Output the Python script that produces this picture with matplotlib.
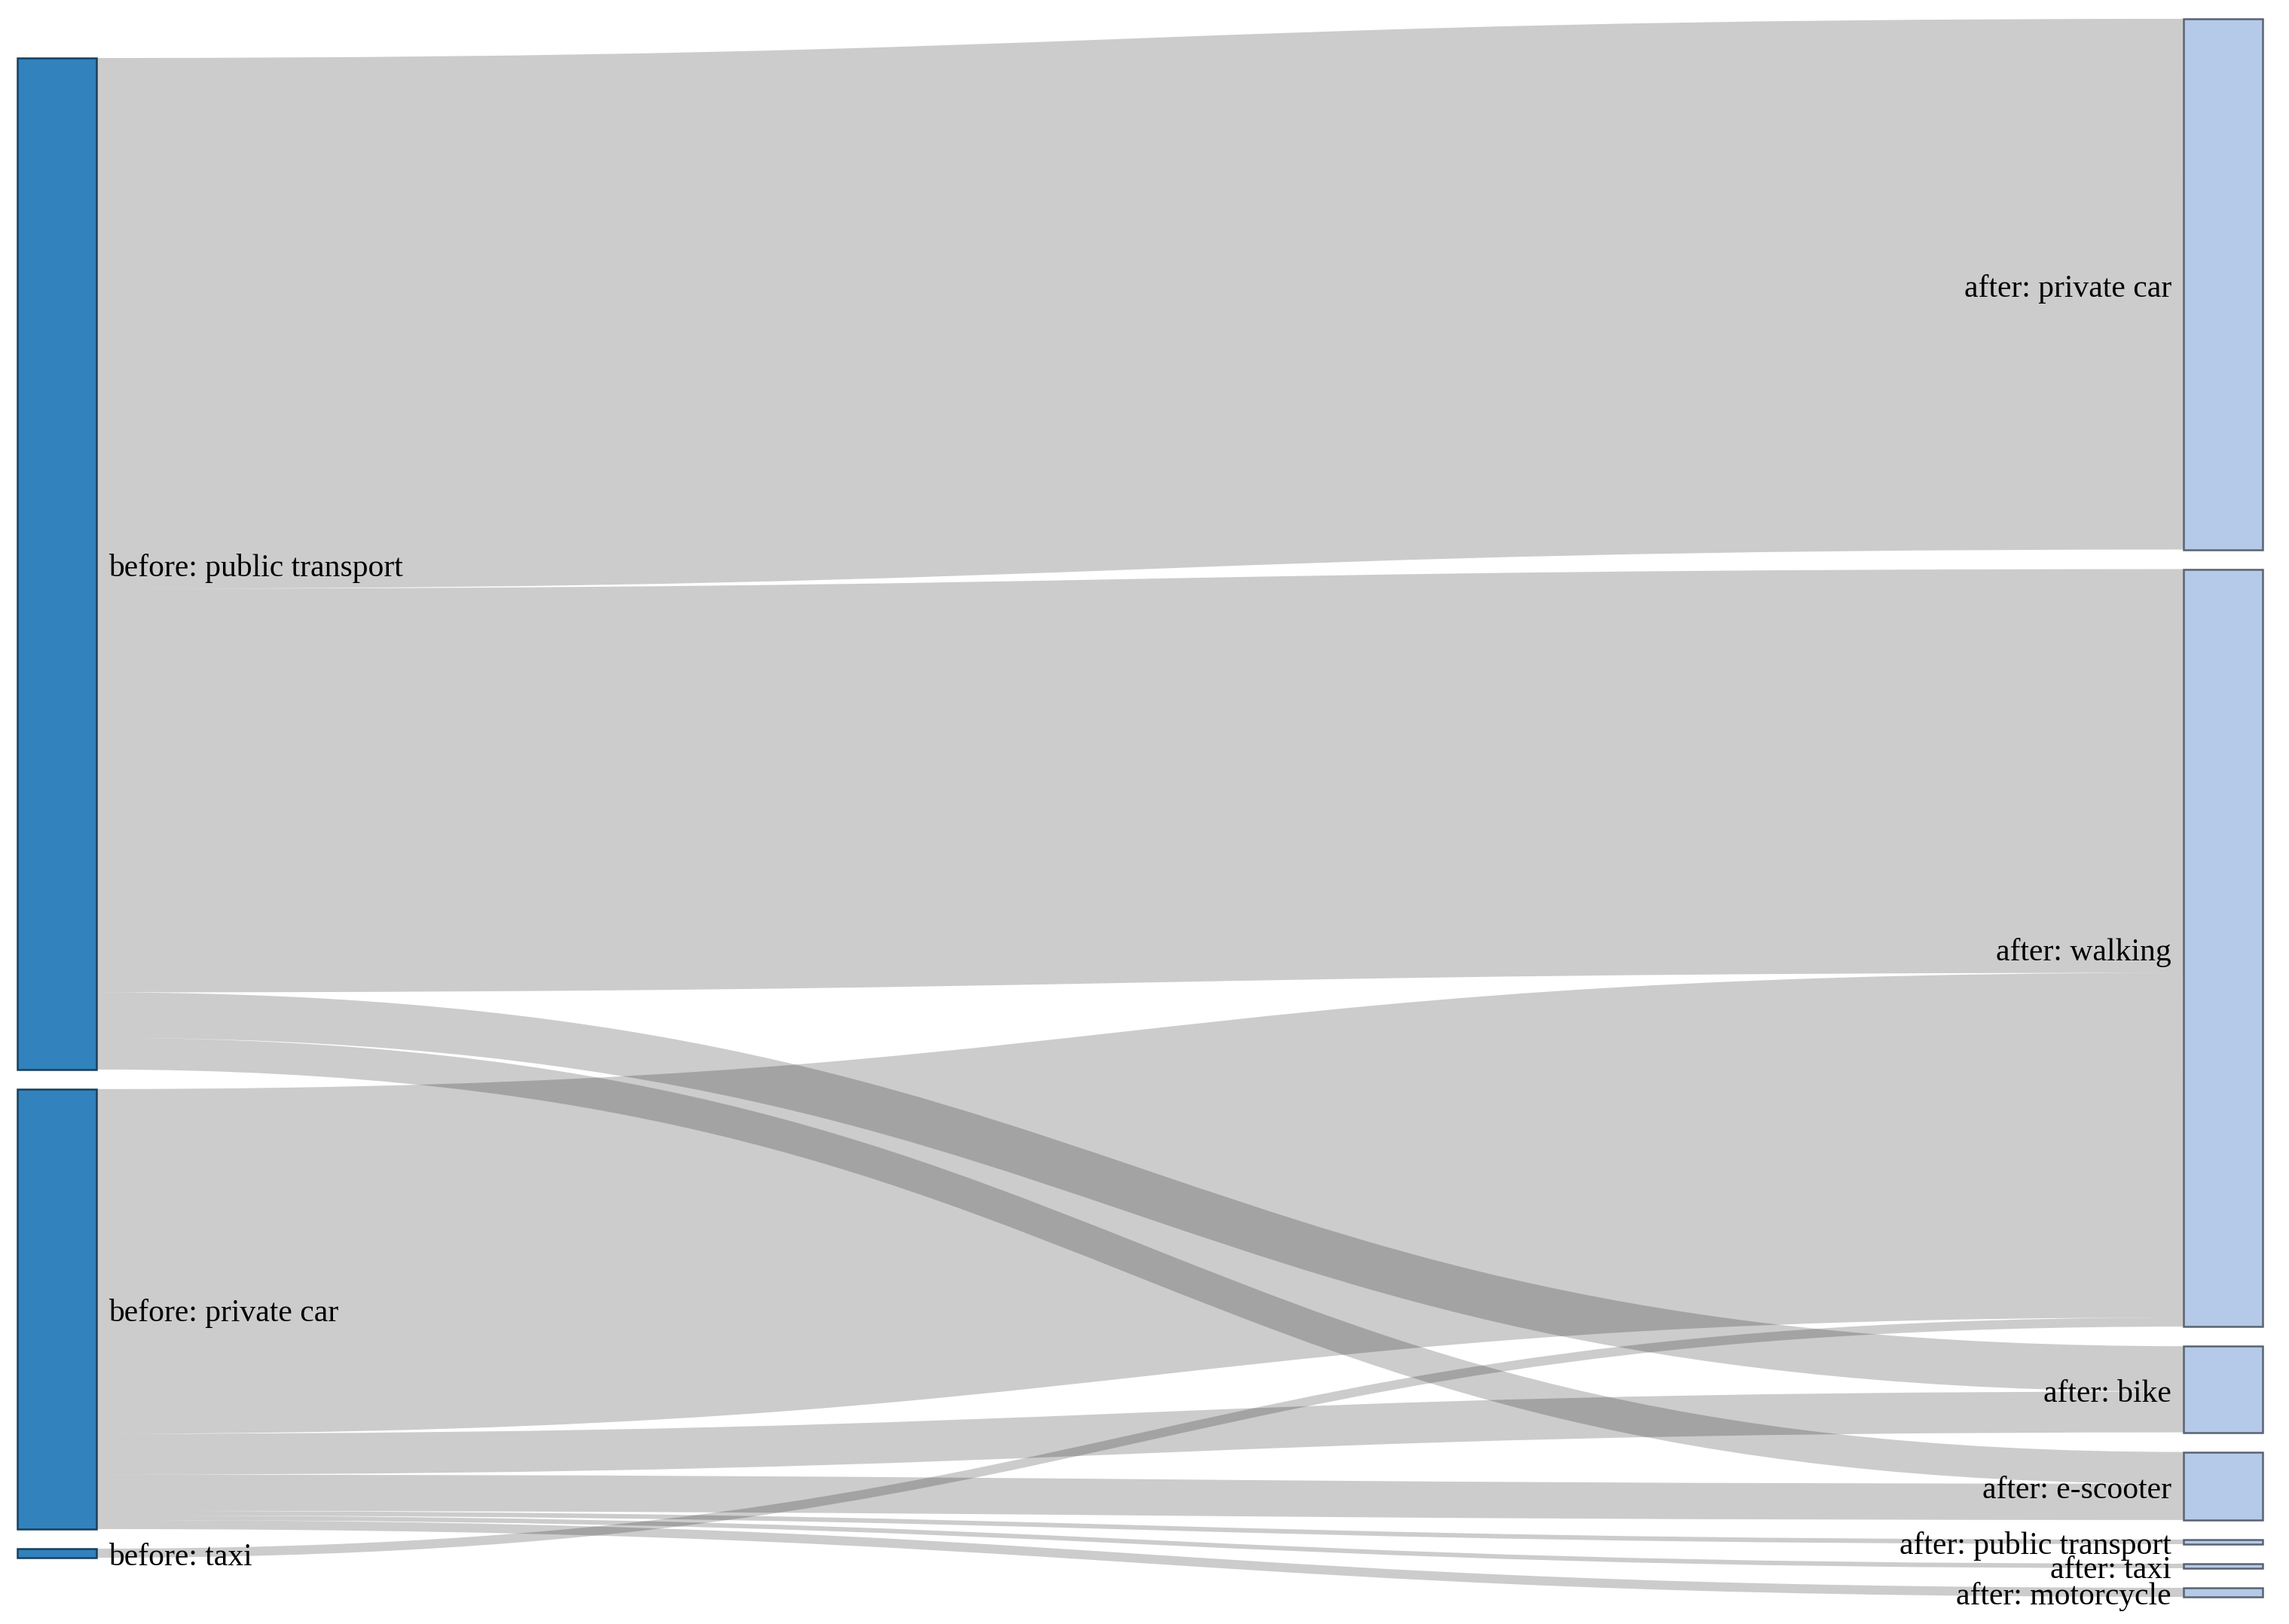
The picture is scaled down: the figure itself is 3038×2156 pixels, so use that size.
import numpy as np
import matplotlib.pyplot as plt
from matplotlib.path import Path
from matplotlib.patches import PathPatch, Rectangle

# nodes, top to bottom in each column
before_nodes = ['public transport', 'private car', 'taxi']
after_nodes = ['private car', 'walking', 'bike', 'e-scooter',
               'public transport', 'taxi', 'motorcycle']

# flows before -> after
link_source = ['public transport', 'public transport', 'public transport', 'public transport',
               'private car', 'private car', 'private car', 'private car', 'private car', 'private car',
               'taxi']
link_target = ['private car', 'walking', 'bike', 'e-scooter',
               'walking', 'bike', 'e-scooter', 'public transport', 'taxi', 'motorcycle',
               'walking']
link_value = [117, 89, 10, 7,
              76, 9, 8, 1, 1, 2,
              2]

W, H, DPI = 3038, 2156, 100
top, bottom = 25, 2120
pad = 26
node_w = 105
x_left, x_right = 23, 2898

left_col = '#3182bd'
right_col = '#b5cae8'


def darker(c, k=2):
    rgb = np.array(plt.matplotlib.colors.to_rgb(c)) * 0.7 ** k
    return tuple(rgb)


# node values
val_before = {n: sum(v for s, v in zip(link_source, link_value) if s == n) for n in before_nodes}
val_after = {n: sum(v for t, v in zip(link_target, link_value) if t == n) for n in after_nodes}

span = bottom - top
ky = min((span - (len(before_nodes) - 1) * pad) / sum(val_before.values()),
         (span - (len(after_nodes) - 1) * pad) / sum(val_after.values()))


def stack(nodes, vals):
    total = sum(vals[n] for n in nodes) * ky + (len(nodes) - 1) * pad
    y = top + (span - total) / 2
    pos = {}
    for n in nodes:
        h = vals[n] * ky
        pos[n] = (y, h)
        y += h + pad
    return pos


pos_b = stack(before_nodes, val_before)
pos_a = stack(after_nodes, val_after)

# link offsets: sorted by target order at source, by source order at target
idx = list(range(len(link_value)))
sy = {}
off = {n: pos_b[n][0] for n in before_nodes}
for i in sorted(idx, key=lambda i: (before_nodes.index(link_source[i]), after_nodes.index(link_target[i]))):
    sy[i] = off[link_source[i]]
    off[link_source[i]] += link_value[i] * ky
ty = {}
off = {n: pos_a[n][0] for n in after_nodes}
for i in sorted(idx, key=lambda i: (after_nodes.index(link_target[i]), before_nodes.index(link_source[i]))):
    ty[i] = off[link_target[i]]
    off[link_target[i]] += link_value[i] * ky

fig = plt.figure(figsize=(W / DPI, H / DPI), dpi=DPI)
ax = fig.add_axes([0, 0, 1, 1])
ax.set_xlim(0, W)
ax.set_ylim(H, 0)
ax.axis('off')

x0 = x_left + node_w
x1 = x_right
xm = (x0 + x1) / 2
for i in idx:
    w = link_value[i] * ky
    y0 = sy[i] + w / 2
    y1 = ty[i] + w / 2
    path = Path([(x0, y0), (xm, y0), (xm, y1), (x1, y1)],
                [Path.MOVETO, Path.CURVE4, Path.CURVE4, Path.CURVE4])
    ax.add_patch(PathPatch(path, fill=False, edgecolor=(0, 0, 0, 0.2),
                           linewidth=max(1, w) * 72 / DPI, capstyle='butt', zorder=1))

for nodes, pos, x, col in [(before_nodes, pos_b, x_left, left_col),
                           (after_nodes, pos_a, x_right, right_col)]:
    for n in nodes:
        y, h = pos[n]
        ax.add_patch(Rectangle((x, y), node_w, h, facecolor=col, edgecolor=darker(col),
                               linewidth=1.8, zorder=2))

font = dict(family='Liberation Serif', fontsize=30, color='black', zorder=3)
for n in before_nodes:
    y, h = pos_b[n]
    ax.text(x_left + node_w + 16, y + h / 2 + 6, 'before: ' + n, ha='left', va='center', **font)
for n in after_nodes:
    y, h = pos_a[n]
    ax.text(x_right - 16, y + h / 2 + 6, 'after: ' + n, ha='right', va='center', **font)

fig.savefig('out.png', dpi=DPI, facecolor='white')
